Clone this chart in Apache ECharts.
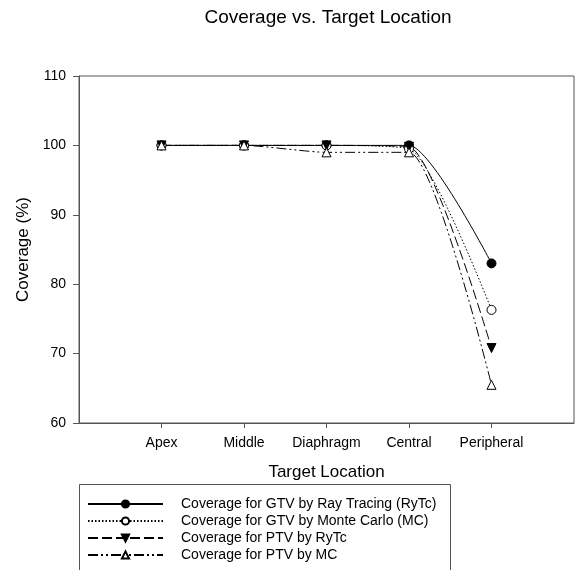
<!DOCTYPE html>
<html>
<head>
<meta charset="utf-8">
<script src="https://cdn.jsdelivr.net/npm/echarts@6/dist/echarts.min.js"></script>
<style>
	html, body { margin: 0; padding: 0; background: #fff; }
	#main { width: 576px; height: 570px; }
</style>
</head>
<body>
<div id="main"></div>
<script>
	var locations = ['Apex', 'Middle', 'Diaphragm', 'Central', 'Peripheral'];
	var gtvRytc = [100, 100, 100, 100, 83];
	var gtvMc = [100, 100, 100, 99.5, 76.3];
	var ptvRytc = [100, 100, 100, 99.8, 70.8];
	var ptvMc = [100, 100, 99, 99, 65.5];
	var yTicks = [60, 70, 80, 90, 100, 110];

	// x positions 1..5 on a 0..6 value axis
	function pairs(arr) {
		return arr.map(function (v, i) { return [i + 1, v]; });
	}

	function mkSeries(name, arr, symbol, fill, dash, rotate) {
		return {
			name: name,
			type: 'line',
			smooth: 0.2,
			data: pairs(arr),
			symbol: symbol,
			symbolSize: 9,
			symbolRotate: rotate || 0,
			lineStyle: { color: '#000', width: 1, type: dash },
			itemStyle: { color: fill, borderColor: '#000', borderWidth: 1 },
			z: 3
		};
	}

	var myChart = echarts.init(document.getElementById('main'));
	var option = {
		animation: false,
		backgroundColor: '#fff',
		textStyle: { fontFamily: 'Liberation Sans, Arial, sans-serif', color: '#000' },
		title: {
			text: 'Coverage vs. Target Location',
			left: 323,
			textAlign: 'center',
			top: 3,
			textStyle: { fontSize: 19, fontWeight: 'normal', color: '#000' }
		},
		grid: {
			left: 79, right: 2, top: 76, bottom: 147,
			show: true, borderColor: '#555', borderWidth: 1
		},
		xAxis: {
			type: 'value',
			min: 0, max: 6, interval: 1,
			name: 'Target Location',
			nameLocation: 'middle',
			nameGap: 41,
			nameTextStyle: { fontSize: 17, color: '#000' },
			axisLine: { lineStyle: { color: '#555' } },
			axisTick: { show: true, length: 5, lineStyle: { color: '#555' }, customValues: [1, 2, 3, 4, 5] },
			axisLabel: {
				fontSize: 14, color: '#000', margin: 13,
				customValues: [1, 2, 3, 4, 5],
				formatter: function (v) { return locations[v - 1] || ''; }
			},
			splitLine: { show: false }
		},
		yAxis: {
			type: 'value',
			min: yTicks[0], max: yTicks[yTicks.length - 1], interval: 10,
			name: 'Coverage (%)',
			nameLocation: 'middle',
			nameGap: 47,
			nameTextStyle: { fontSize: 17, color: '#000' },
			axisLine: { show: true, lineStyle: { color: '#555' } },
			axisTick: { show: true, length: 6, lineStyle: { color: '#555' } },
			axisLabel: { fontSize: 14, color: '#000', margin: 13 },
			splitLine: { show: false }
		},
		legend: {
			orient: 'vertical',
			left: 82,
			top: 492,
			itemWidth: 75,
			itemHeight: 9,
			itemGap: 3,
			textStyle: { fontSize: 14, color: '#000', padding: [0, 0, 0, 13] },
			data: [
				'Coverage for GTV by Ray Tracing (RyTc)',
				'Coverage for GTV by Monte Carlo (MC)',
				'Coverage for PTV by RyTc',
				'Coverage for PTV by MC'
			]
		},
		graphic: [{
			type: 'rect',
			shape: { x: 79.5, y: 484.5, width: 371, height: 100 },
			style: { fill: 'none', stroke: '#555', lineWidth: 1 },
			silent: true,
			z: -1
		}],
		series: [
			mkSeries('Coverage for GTV by Ray Tracing (RyTc)', gtvRytc, 'circle', '#000', 'solid'),
			mkSeries('Coverage for GTV by Monte Carlo (MC)', gtvMc, 'circle', '#fff', [1.5, 2]),
			mkSeries('Coverage for PTV by RyTc', ptvRytc, 'triangle', '#000', [10, 4], 180),
			mkSeries('Coverage for PTV by MC', ptvMc, 'triangle', '#fff', [10, 3, 2, 3, 2, 3])
		]
	};
	myChart.setOption(option);
</script>
</body>
</html>
